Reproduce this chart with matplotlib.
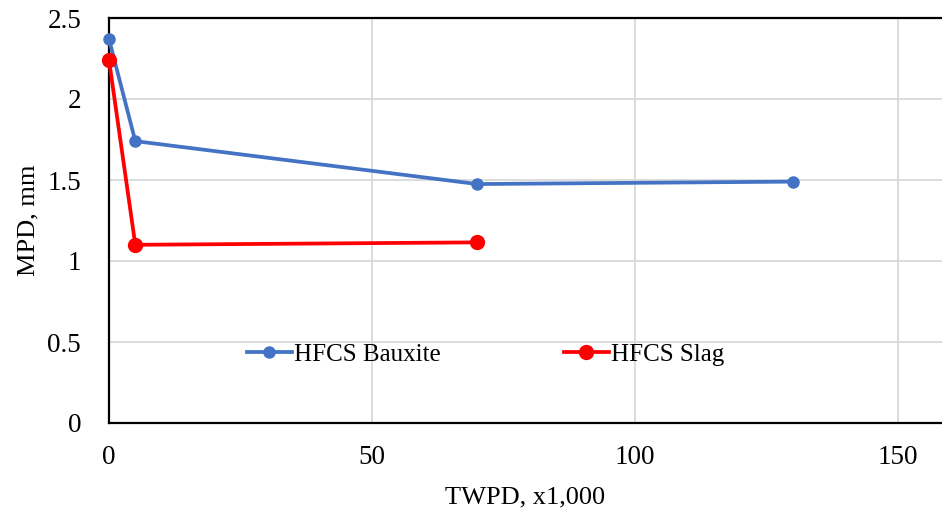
"""MPD vs TWPD for HFCS bauxite and slag."""
import matplotlib
matplotlib.use("Agg")
import matplotlib.pyplot as plt

# data
twpd_bauxite = [0, 5, 70, 130]
mpd_bauxite = [2.37, 1.74, 1.475, 1.49]
twpd_slag = [0, 5, 70]
mpd_slag = [2.24, 1.10, 1.115]

x_ticks = [0, 50, 100, 150]
y_ticks = [0, 0.5, 1, 1.5, 2, 2.5]
y_ticklabels = ["0", "0.5", "1", "1.5", "2", "2.5"]

plt.rcParams['font.family'] = ['Liberation Serif', 'DejaVu Serif']

fig = plt.figure(figsize=(9.42, 5.19), dpi=100)
ax = fig.add_axes([109 / 942, 96 / 519, 833 / 942, 405 / 519])

ax.plot(twpd_bauxite, mpd_bauxite, color='#4472c4', lw=2.7, marker='o',
        ms=8, label='HFCS Bauxite', zorder=3, clip_on=False)
ax.plot(twpd_slag, mpd_slag, color='#ff0000', lw=2.7, marker='o',
        ms=10, label='HFCS Slag', zorder=4, clip_on=False)

ax.set_xlim(0, 158.4)
ax.set_ylim(0, 2.5)
ax.set_xticks(x_ticks)
ax.set_yticks(y_ticks)
ax.set_yticklabels(y_ticklabels)
ax.tick_params(length=0, labelsize=19.5)
ax.tick_params(axis='x', pad=16)
ax.tick_params(axis='y', pad=20)

ax.grid(True, color='#d9d9d9', lw=1.3)
ax.set_axisbelow(True)
for side in ['left', 'bottom', 'top']:
    ax.spines[side].set_color('black')
    ax.spines[side].set_linewidth(1.6)
ax.spines['right'].set_visible(False)

ax.set_xlabel('TWPD, x1,000', fontsize=19, labelpad=12)
ax.set_ylabel('MPD, mm', fontsize=19, labelpad=6)

ax.legend(ncol=2, loc='center', bbox_to_anchor=(0.452, 0.168),
          frameon=False, fontsize=18, handlelength=1.8,
          handletextpad=0.1, columnspacing=4.9, borderpad=0.2)

fig.savefig('out.png', dpi=100)
plt.close()
